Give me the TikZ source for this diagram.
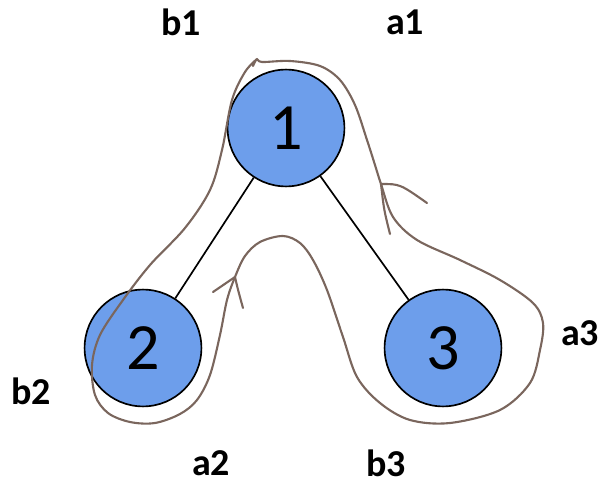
\documentclass[tikz,border=0pt]{standalone}
\usepackage{fontspec}
\setmainfont{Carlito}
\usepackage{xcolor}
\definecolor{nodeblue}{RGB}{109, 158, 235}
\definecolor{penbrown}{RGB}{122, 102, 93}
\usepackage{tikz}
\usetikzlibrary{arrows.meta, calc, positioning}

\begin{document}
\begin{tikzpicture}[x=0.025cm, y=-0.025cm,
    vertex/.style={circle, draw=black, line width=1.2pt, fill=nodeblue,
      minimum size=2.92cm, inner sep=0pt, font=\fontsize{47}{50}\selectfont},
    tag/.style={inner sep=0pt, font=\fontsize{27}{30}\selectfont\bfseries},
    pen/.style={draw=penbrown, line width=1.5pt, line cap=round, line join=round}]
  \useasboundingbox (0,0) rectangle (608,486);
  % tree
  \node[vertex] (v1) at (286,128) {1};
  \node[vertex] (v2) at (143,348) {2};
  \node[vertex] (v3) at (443,348) {3};
  \draw[line width=1.2pt] (v1) -- (v2);
  \draw[line width=1.2pt] (v1) -- (v3);
  % labels
  \node[tag] (b1) at (181,22) {b1};
  \node[tag] (a1) at (405,22) {a1};
  \node[tag] (a3) at (580,333) {a3};
  \node[tag] (b2) at (31,391) {b2};
  \node[tag] (a2) at (211,463) {a2};
  \node[tag] (b3) at (386,463) {b3};
  % tour
  \draw[pen] plot[smooth, tension=0.55] coordinates {
    (253,66) (257,59) (262,62) (290,61) (320,66) (340,80) (355,105) (367,140)
    (375,165) (381,184) (393,217) (417,240) (460,260) (500,280) (533,303)
    (543,323) (540,350) (530,383) (500,410) (450,423) (410,420) (380,403)
    (357,377) (343,337) (327,290) (313,260) (300,243) (283,236) (260,242)
    (245,256) (235,277) (227,300) (220,335) (210,375) (197,400) (180,414)
    (155,423) (130,422) (108,413) (95,395) (92,365) (100,335) (123,300)
    (150,265) (185,228) (210,190) (222,150) (232,100) (245,72) (257,59)};
  \coordinate (tipL) at (235,277);
  \coordinate (tipR) at (381,184);
  \draw[pen] (tipL) -- (213,292);
  \draw[pen] (tipL) .. controls (238,290) .. (243,308);
  \draw[pen] (tipR) .. controls (400,184) .. (427,203);
  \draw[pen] (tipR) .. controls (384,210) .. (390,234);
\end{tikzpicture}
\end{document}
